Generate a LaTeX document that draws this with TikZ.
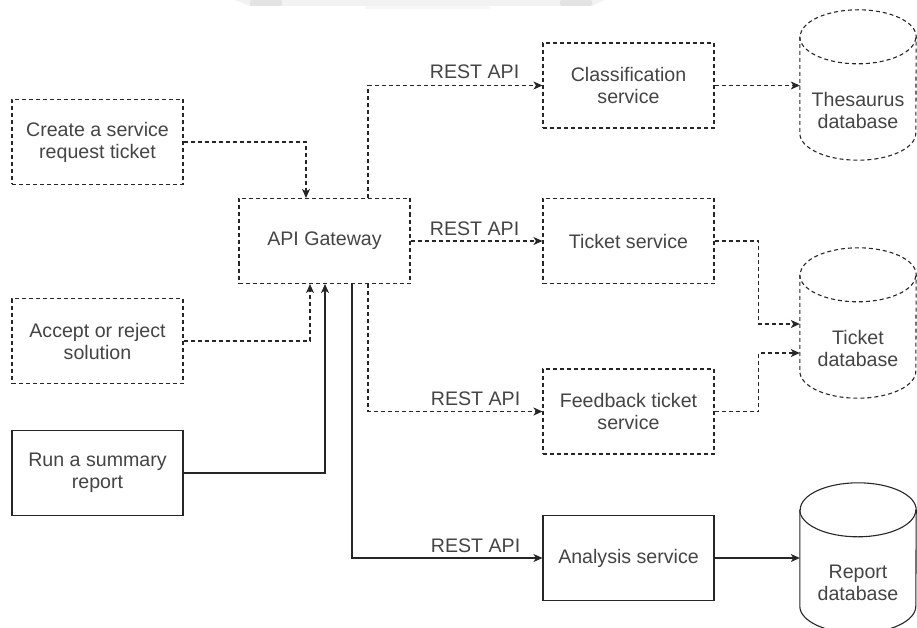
\documentclass[tikz,border=0pt]{standalone}
\usepackage{fontspec}
\setmainfont{Liberation Sans}
\usetikzlibrary{arrows.meta,calc}
\definecolor{inkline}{HTML}{262626}
\definecolor{inktext}{HTML}{444444}
\begin{document}
\begin{tikzpicture}[x=1pt,y=1pt,
  every node/.style={font=\fontsize{19.6}{22}\selectfont, text=inktext},
  box/.style={rectangle, draw=inkline, line width=1.1pt, minimum width=171pt,
    minimum height=85pt, inner sep=0pt, align=center},
  dashbox/.style={box, dash pattern=on 4pt off 3pt},
  dbbody/.style={rectangle, minimum width=116pt, minimum height=150pt, inner sep=0pt},
  dbtext/.style={align=center, inner sep=0pt},
  dbline/.style={draw=inkline, line width=1.1pt},
  dbdash/.style={dash pattern=on 4pt off 3pt},
  dbsolid/.style={solid},
  link/.style={draw=inkline, line width=1.1pt,
    -{Stealth[length=9pt,width=8pt,inset=2.5pt]}},
  dlink/.style={link, dash pattern=on 4pt off 3pt},
  apilabel/.style={anchor=base east, inner sep=0pt}
]
\useasboundingbox (0,0) rectangle (917,-628);

% faint strip along the top edge
\fill[black!5] (235,0) -- (605,0) -- (592,-6) -- (250,-6) -- cycle;
\fill[black!3] (365,-6) rectangle (490,-9);
\fill[black!11, rounded corners=2pt] (250,0) rectangle (282,-6);
\fill[black!11, rounded corners=2pt] (560,0) rectangle (592,-6);

% client actions
\node[dashbox] (create) at (97.5,-142) {Create a service\\request ticket};
\node[dashbox] (accept) at (97.5,-341) {Accept or reject\\solution};
\node[box] (run) at (97.5,-473) {Run a summary\\report};

% gateway
\node[dashbox] (api) at (324.5,-241) {API Gateway};

% services
\node[dashbox] (class) at (628.5,-85.5) {Classification\\service};
\node[dashbox] (ticket) at (628.5,-241) {Ticket service};
\node[dashbox] (feedback) at (628.5,-411.5) {Feedback ticket\\service};
\node[box] (analysis) at (628.5,-558) {Analysis service};

% databases: body nodes, outlines and captions
\node[dbbody] (thes) at (858,-85) {};
\node[dbbody] (tdb) at (858,-323) {};
\node[dbbody] (rdb) at (858,-558) {};

\foreach \db/\pat in {thes/dbdash, tdb/dbdash, rdb/dbsolid} {
  \draw[dbline, \pat] ([yshift=-27pt]\db.north west) -- ([yshift=27pt]\db.south west)
    arc[start angle=180, end angle=360, x radius=58pt, y radius=27pt]
    -- ([yshift=-27pt]\db.north east)
    arc[start angle=0, end angle=180, x radius=58pt, y radius=27pt] -- cycle;
  \draw[dbline, \pat] ([yshift=-27pt]\db.north west)
    arc[start angle=180, end angle=360, x radius=58pt, y radius=27pt];
}
\node[dbtext] (thestext) at ([yshift=-25pt]thes.center) {Thesaurus\\database};
\node[dbtext] (tdbtext) at ([yshift=-25pt]tdb.center) {Ticket\\database};
\node[dbtext] (rdbtext) at ([yshift=-25pt]rdb.center) {Report\\database};

% clients to gateway
\draw[dlink] (create.east) -| ([xshift=-18.5pt]api.north);
\draw[dlink] (accept.east) -| ([xshift=-14.5pt]api.south);
\draw[link] (run.east) -| ([xshift=0.5pt]api.south);

% gateway to services
\draw[dlink] ([xshift=43.5pt]api.north) |- (class.west);
\draw[dlink] (api.east) -- (ticket.west);
\draw[dlink] ([xshift=43.5pt]api.south) |- (feedback.west);
\draw[link] ([xshift=27.5pt]api.south) |- (analysis.west);

\node[apilabel] (lbl1) at ([xshift=-23pt,yshift=6.5pt]class.west) {REST API};
\node[apilabel] (lbl2) at ([xshift=-23pt,yshift=6pt]ticket.west) {REST API};
\node[apilabel] (lbl3) at ([xshift=-22pt,yshift=6.5pt]feedback.west) {REST API};
\node[apilabel] (lbl4) at ([xshift=-22pt,yshift=6pt]analysis.west) {REST API};

% services to databases
\draw[dlink] (class.east) -- (class.east -| thes.west);
\draw[dlink] (ticket.east) -- ++(44pt,0) |- ([yshift=-1pt]tdb.west);
\draw[dlink] (feedback.east) -- ++(44pt,0) |- ([yshift=-30pt]tdb.west);
\draw[link] (analysis.east) -- (analysis.east -| rdb.west);
\end{tikzpicture}
\end{document}
